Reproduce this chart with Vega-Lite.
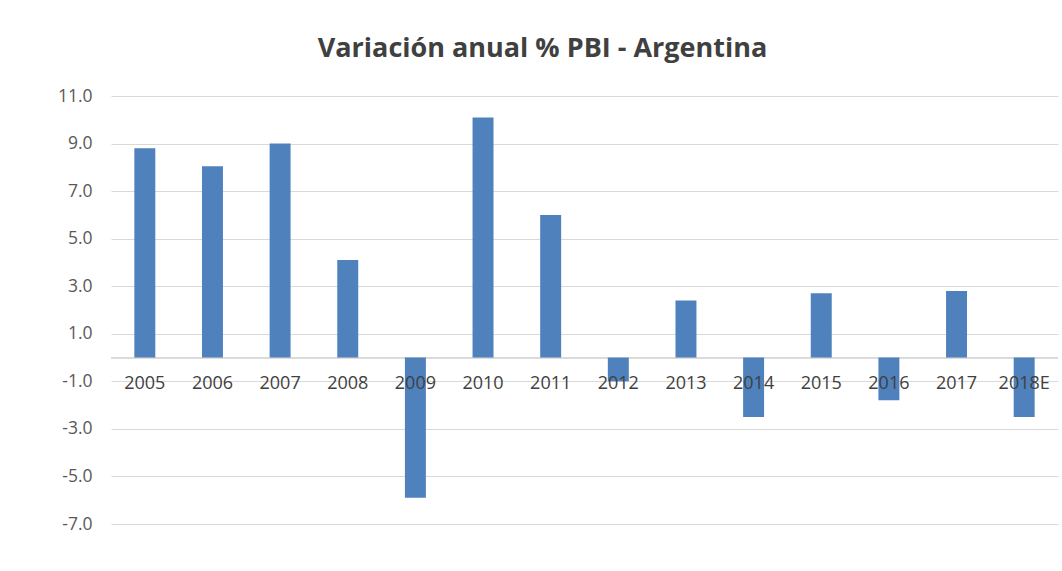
{
  "$schema": "https://vega.github.io/schema/vega-lite/v6.json",
  "width": 947,
  "height": 428,
  "autosize": {"type": "none"},
  "padding": {"left": 111, "top": 96, "right": 4, "bottom": 47},
  "background": "white",
  "title": {
    "text": "Variación anual % PBI - Argentina",
    "font": "Open Sans",
    "fontSize": 27,
    "fontWeight": "bold",
    "color": "#404040",
    "anchor": "middle",
    "dx": -42,
    "offset": 24
  },
  "config": {"view": {"stroke": null}},
  "data": {
    "values": [
      {"year": "2005", "value": 8.8},
      {"year": "2006", "value": 8.05},
      {"year": "2007", "value": 9.0},
      {"year": "2008", "value": 4.1},
      {"year": "2009", "value": -5.9},
      {"year": "2010", "value": 10.1},
      {"year": "2011", "value": 6.0},
      {"year": "2012", "value": -1.0},
      {"year": "2013", "value": 2.4},
      {"year": "2014", "value": -2.5},
      {"year": "2015", "value": 2.7},
      {"year": "2016", "value": -1.8},
      {"year": "2017", "value": 2.8},
      {"year": "2018E", "value": -2.5}
    ]
  },
  "encoding": {
    "x": {
      "field": "year",
      "type": "nominal",
      "sort": null,
      "scale": {"paddingInner": 0.69, "paddingOuter": 0.345},
      "axis": null
    }
  },
  "layer": [
    {
      "mark": {"type": "rule", "color": "#d9d9d9", "strokeWidth": 1.2},
      "encoding": {"y": {"datum": 0}, "x": null}
    },
    {
      "mark": {"type": "bar", "color": "#4f81bd"},
      "encoding": {
        "y": {
          "field": "value",
          "type": "quantitative",
          "scale": {"domain": [-7, 11], "nice": false, "zero": false},
          "axis": {
            "title": null,
            "values": [-7, -5, -3, -1, 1, 3, 5, 7, 9, 11],
            "labelExpr": "(datum.value < 0 ? '-' : '') + format(abs(datum.value), '.1f')",
            "domain": false,
            "ticks": false,
            "grid": true,
            "labelFont": "Open Sans",
            "labelFontSize": 17.5,
            "labelColor": "#595959",
            "labelPadding": 19,
            "gridColor": "#d9d9d9",
            "gridWidth": 1.2
          }
        },
        "y2": {"datum": 0}
      }
    },
    {
      "mark": {"type": "text", "font": "Open Sans", "fontSize": 18, "color": "#404040", "baseline": "middle", "dy": 26},
      "encoding": {
        "y": {"datum": 0},
        "text": {"field": "year"}
      }
    }
  ]
}
